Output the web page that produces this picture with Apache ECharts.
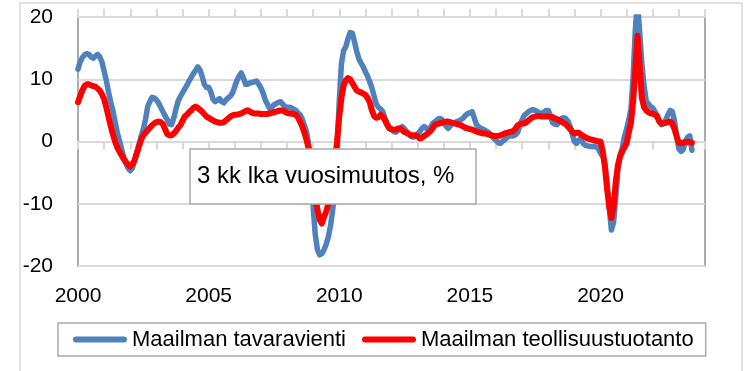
<!DOCTYPE html>
<html>
<head>
<meta charset="utf-8">
<script src="https://cdn.jsdelivr.net/npm/echarts@6/dist/echarts.min.js"></script>
<style>
  html, body { margin: 0; padding: 0; background: #ffffff; }
  #chart { width: 749px; height: 371px; }
</style>
</head>
<body>
<div id="chart"></div>
<script>
// Monthly categories, January 2000 .. January 2024
const months = [];
for (let y = 2000; y <= 2024; y++) {
  for (let m = 1; m <= 12; m++) {
    if (y === 2024 && m > 1) break;
    months.push(y + '-' + String(m).padStart(2, '0'));
  }
}

// Year labels shown under the axis
const yearLabels = ['2000', '2005', '2010', '2015', '2020'];

// Y axis ticks
const yTicks = [-20, -10, 0, 10, 20];

const seriesNames = ['Maailman tavaravienti', 'Maailman teollisuustuotanto'];
const noteText = '3 kk lka vuosimuutos, %';

// Maailman tavaravienti, 3 kk lka vuosimuutos (%), one row per year
const tavaravienti = [
  11.6, 12.8, 13.5, 13.9, 14.1, 14.0, 13.6, 13.4, 13.7, 14.0, 13.6, 12.8,
  11.3, 9.8, 8.0, 6.4, 5.0, 3.2, 1.5, 0.2, -1.2, -2.5, -3.5, -4.3,
  -4.7, -4.3, -3.0, -1.8, -0.5, 0.8, 2.0, 3.5, 5.6, 6.4, 7.1, 7.0,
  6.7, 6.2, 5.5, 4.8, 4.1, 3.5, 2.8, 2.7, 3.8, 5.2, 6.5, 7.2,
  7.8, 8.4, 9.0, 9.7, 10.3, 10.9, 11.4, 12.0, 11.5, 10.5, 9.2, 8.7,
  8.7, 8.0, 6.8, 6.4, 6.6, 6.9, 6.4, 6.2, 6.7, 7.0, 7.3, 7.8,
  8.8, 9.8, 10.5, 11.0, 10.2, 9.2, 9.2, 9.4, 9.5, 9.6, 9.7, 9.2,
  8.6, 7.8, 6.7, 6.0, 5.3, 5.5, 5.9, 6.1, 6.3, 6.4, 6.0, 5.6,
  5.5, 5.5, 5.4, 5.2, 5.0, 4.6, 4.3, 3.6, 2.6, 1.5, -0.5, -4.5,
  -10.5, -15.0, -17.4, -18.2, -18.0, -17.4, -16.5, -15.3, -13.5, -11.0, -7.5, -1.5,
  6.5, 12.5, 14.6, 15.2, 16.5, 17.5, 17.4, 16.0, 14.5, 13.3, 12.6, 12.0,
  11.2, 10.5, 9.6, 8.6, 7.3, 6.0, 5.5, 5.2, 4.8, 3.7, 2.9, 2.2,
  1.9, 1.6, 1.5, 1.8, 2.2, 2.4, 2.0, 1.6, 1.2, 0.8, 0.7, 0.8,
  1.2, 1.6, 2.1, 2.4, 2.1, 1.8, 2.3, 2.9, 3.2, 3.5, 3.7, 3.6,
  3.0, 2.5, 2.1, 2.5, 2.9, 3.0, 3.2, 3.3, 3.5, 3.8, 4.2, 4.5,
  4.6, 4.8, 3.8, 2.7, 2.4, 2.1, 2.0, 1.8, 1.6, 1.3, 0.9, 0.5,
  0.2, -0.2, -0.3, 0.0, 0.3, 0.6, 0.9, 0.9, 0.9, 1.1, 1.5, 2.5,
  3.5, 4.2, 4.5, 4.8, 5.0, 5.1, 5.0, 4.8, 4.6, 4.5, 4.7, 5.0,
  5.0, 4.2, 3.0, 2.8, 2.7, 3.2, 3.7, 3.8, 3.7, 3.3, 2.5, 1.2,
  0.0, -0.3, 0.2, 0.4, -0.3, -0.6, -0.7, -0.8, -0.8, -0.8, -0.9, -1.1,
  -1.9, -2.3, -3.5, -6.5, -10.5, -14.2, -13.0, -9.0, -4.5, -2.2, -1.0, 0.8,
  2.0, 3.5, 5.2, 10.5, 18.0, 22.5, 17.5, 12.5, 9.0, 6.5, 6.0, 5.6,
  5.4, 4.8, 4.2, 3.3, 2.7, 3.0, 3.5, 4.3, 5.0, 4.8, 3.3, 0.8,
  -1.2, -1.6, -1.3, 0.0, 0.7, 0.9, -1.4
];

// Maailman teollisuustuotanto, 3 kk lka vuosimuutos (%), one row per year
const teollisuustuotanto = [
  6.3, 7.3, 8.2, 8.9, 9.2, 9.2, 9.0, 8.9, 8.8, 8.5, 8.2, 7.6,
  6.8, 5.5, 4.0, 2.5, 1.2, 0.0, -0.9, -1.6, -2.2, -2.8, -3.3, -3.7,
  -4.0, -3.6, -3.0, -1.9, -0.8, 0.3, 1.0, 1.4, 1.8, 2.2, 2.6, 2.9,
  3.1, 3.2, 3.1, 2.8, 2.0, 1.2, 1.0, 1.0, 1.3, 1.7, 2.2, 2.6,
  3.3, 4.0, 4.3, 4.7, 5.0, 5.4, 5.6, 5.4, 5.1, 4.8, 4.4, 4.0,
  3.8, 3.6, 3.4, 3.2, 3.1, 3.0, 3.0, 3.1, 3.4, 3.7, 4.0, 4.2,
  4.3, 4.3, 4.4, 4.5, 4.7, 4.9, 5.0, 4.8, 4.6, 4.5, 4.5, 4.5,
  4.4, 4.4, 4.4, 4.4, 4.5, 4.6, 4.7, 4.8, 4.9, 5.0, 5.0, 4.8,
  4.6, 4.5, 4.5, 4.4, 4.3, 3.9, 3.2, 2.4, 1.4, 0.2, -1.2, -3.3,
  -6.0, -8.8, -11.0, -12.5, -13.2, -12.1, -11.3, -10.0, -7.8, -5.5, -3.0, 0.0,
  4.0, 7.0, 9.0, 9.8, 10.2, 10.0, 9.4, 8.8, 8.2, 8.0, 7.9, 7.7,
  7.5, 7.0, 6.3, 5.0, 4.1, 3.8, 3.9, 4.3, 4.0, 3.4, 2.7, 2.1,
  2.0, 1.9, 1.9, 2.1, 2.1, 1.8, 1.5, 1.4, 1.2, 1.0, 1.0, 1.0,
  0.8, 0.5, 0.6, 0.9, 1.1, 1.4, 1.7, 2.2, 2.7, 2.8, 2.9, 3.0,
  3.1, 3.2, 3.2, 3.1, 3.0, 2.9, 2.8, 2.7, 2.6, 2.4, 2.2, 2.1,
  2.0, 1.9, 1.8, 1.6, 1.5, 1.4, 1.3, 1.3, 1.2, 1.1, 1.0, 0.9,
  0.9, 0.9, 1.0, 1.1, 1.3, 1.4, 1.5, 1.6, 1.7, 2.1, 2.6, 2.8,
  2.9, 2.9, 3.1, 3.4, 3.7, 3.9, 4.0, 4.1, 4.1, 4.0, 4.0, 4.0,
  4.0, 4.0, 3.9, 3.7, 3.6, 3.4, 3.2, 3.0, 2.8, 2.4, 2.0, 1.6,
  1.3, 1.4, 1.4, 1.1, 0.9, 0.7, 0.5, 0.4, 0.3, 0.2, 0.1, 0.0,
  0.0, -1.5, -4.0, -7.5, -10.5, -12.3, -10.5, -6.5, -3.8, -2.4, -1.6, -0.9,
  -0.3, 1.5, 3.0, 6.5, 11.5, 17.0, 12.0, 7.0, 5.5, 5.0, 4.7, 4.5,
  4.5, 4.3, 4.0, 3.2, 2.9, 2.9, 3.0, 3.1, 3.2, 2.8, 2.0, 0.8,
  -0.2, -0.3, -0.2, -0.1, -0.1, -0.1, -0.2
];

const FONT = '"Liberation Sans", Arial, sans-serif';
const GRID_GRAY = '#d9d9d9';
const BORDER_GRAY = '#ababab';

const chart = echarts.init(document.getElementById('chart'), null, { renderer: 'canvas' });

const capsule = 'path://M3,0 L51,0 A3,3 0 0 1 51,6 L3,6 A3,3 0 0 1 3,0 Z';

chart.setOption({
  animation: false,
  backgroundColor: '#ffffff',
  grid: {
    left: 78, top: 17, right: 44, bottom: 105,
    show: true, borderColor: BORDER_GRAY, borderWidth: 2,
    backgroundColor: 'transparent'
  },
  xAxis: [
    {
      // zero line with ticks pointing down
      type: 'category', data: months, boundaryGap: false, position: 'bottom',
      axisLine: { onZero: true, lineStyle: { color: GRID_GRAY, width: 2 } },
      axisTick: { show: true, interval: 11, length: 8, lineStyle: { color: GRID_GRAY, width: 2 } },
      axisLabel: { show: false }, splitLine: { show: false }
    },
    {
      // zero line ticks pointing up
      type: 'category', data: months, boundaryGap: false, position: 'top',
      axisLine: { onZero: true, lineStyle: { color: GRID_GRAY, width: 2 } },
      axisTick: { show: true, interval: 11, length: 8, lineStyle: { color: GRID_GRAY, width: 2 } },
      axisLabel: { show: false }, splitLine: { show: false }
    },
    {
      // year labels at the bottom of the plot
      type: 'category', data: months, boundaryGap: false, position: 'bottom',
      axisLine: { show: false, onZero: false },
      axisTick: { show: false },
      axisLabel: {
        interval: (idx, val) => yearLabels.indexOf(val.slice(0, 4)) >= 0 && val.slice(5) === '01',
        formatter: (val) => val.slice(0, 4),
        fontFamily: FONT, fontSize: 21, color: '#000', margin: 20
      },
      splitLine: { show: false }
    }
  ],
  yAxis: {
    type: 'value', min: yTicks[0], max: yTicks[yTicks.length - 1], interval: 10,
    axisLine: { show: false }, axisTick: { show: false },
    axisLabel: { fontFamily: FONT, fontSize: 21, color: '#000', margin: 25 },
    splitLine: { show: true, lineStyle: { color: GRID_GRAY, width: 2 } }
  },
  legend: {
    left: 58, top: 323,
    padding: [5, 12, 5, 15],
    borderColor: BORDER_GRAY, borderWidth: 1.5,
    itemWidth: 54, itemHeight: 6, itemGap: 16,
    icon: capsule,
    textStyle: { fontFamily: FONT, fontSize: 22, color: '#000', lineHeight: 23 },
    data: seriesNames
  },
  series: [
    {
      name: seriesNames[0], type: 'line', data: tavaravienti,
      xAxisIndex: 0, showSymbol: false, symbol: 'none',
      color: '#4f81bd',
      lineStyle: { color: '#4f81bd', width: 5.5, cap: 'round', join: 'round' },
      z: 3
    },
    {
      name: seriesNames[1], type: 'line', data: teollisuustuotanto,
      xAxisIndex: 0, showSymbol: false, symbol: 'none',
      color: '#ff0000',
      lineStyle: { color: '#ff0000', width: 6, cap: 'round', join: 'round' },
      z: 4
    }
  ],
  graphic: [
    {
      // outer chart frame
      type: 'rect', z: 0, silent: true,
      shape: { x: 20, y: 3, width: 722, height: 380 },
      style: { fill: 'none', stroke: GRID_GRAY, lineWidth: 1.5 }
    },
    {
      type: 'group', z: 100,
      children: [
        {
          type: 'rect', z: 100,
          shape: { x: 190, y: 149, width: 286, height: 55 },
          style: { fill: '#ffffff', stroke: BORDER_GRAY, lineWidth: 1.5 }
        },
        {
          type: 'text', z: 101, x: 197, y: 176,
          style: {
            text: noteText, fill: '#000',
            font: '24px ' + FONT,
            verticalAlign: 'middle', align: 'left'
          }
        }
      ]
    }
  ]
});
</script>
</body>
</html>
